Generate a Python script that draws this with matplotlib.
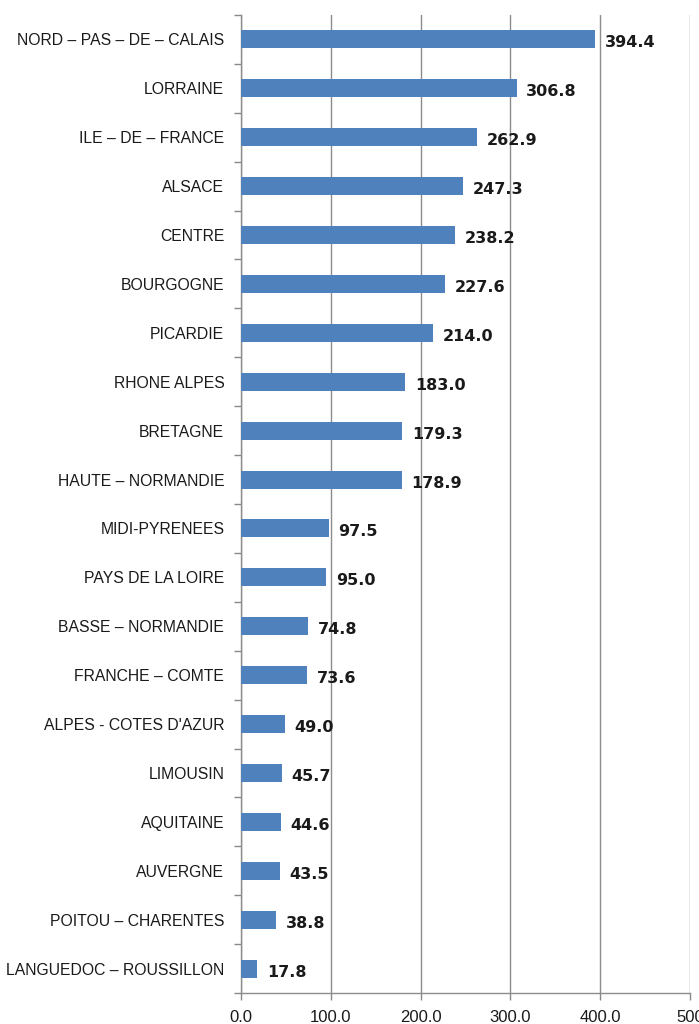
import matplotlib
matplotlib.use("Agg")
import matplotlib.pyplot as plt
import numpy as np

regions = [
    "NORD – PAS – DE – CALAIS", "LORRAINE", "ILE – DE – FRANCE", "ALSACE",
    "CENTRE", "BOURGOGNE", "PICARDIE", "RHONE ALPES", "BRETAGNE",
    "HAUTE – NORMANDIE", "MIDI-PYRENEES", "PAYS DE LA LOIRE",
    "BASSE – NORMANDIE", "FRANCHE – COMTE", "ALPES - COTES D'AZUR",
    "LIMOUSIN", "AQUITAINE", "AUVERGNE", "POITOU – CHARENTES",
    "LANGUEDOC – ROUSSILLON",
]
values = [394.4, 306.8, 262.9, 247.3, 238.2, 227.6, 214.0, 183.0, 179.3,
          178.9, 97.5, 95.0, 74.8, 73.6, 49.0, 45.7, 44.6, 43.5, 38.8, 17.8]
xticks = [0, 100, 200, 300, 400, 500]
xtick_labels = ["0.0", "100.0", "200.0", "300.0", "400.0", "500"]

plt.rcParams["font.family"] = ["Liberation Sans", "DejaVu Sans"]

fig = plt.figure(figsize=(6.99, 10.24), dpi=100)
ax = fig.add_axes([241 / 699, 31 / 1024, 449 / 699, 978 / 1024])

n = len(regions)
y = np.arange(n)
ax.barh(y, values, height=0.37, color="#4F81BD", zorder=3)

# value labels sit right of each bar, a touch below its centre
for yi, v in zip(y, values):
    ax.annotate(f"{v:.1f}", (v, yi), xytext=(7, -2.5), textcoords="offset points",
                ha="left", va="center", fontsize=11.5, fontweight="bold",
                family="DejaVu Sans", color="#1a1a1a", zorder=4)

ax.set_ylim(n - 0.5, -0.5)
ax.set_xlim(0, 500)
ax.set_yticks(y)
ax.set_yticklabels(regions, fontsize=11.3, color="#1a1a1a")
ax.set_yticks(np.arange(n + 1) - 0.5, minor=True)
ax.tick_params(axis="y", which="major", length=0, pad=12)
ax.tick_params(axis="y", which="minor", length=5, color="#888888", width=1)
ax.set_xticks(xticks)
ax.set_xticklabels(xtick_labels, fontsize=12, color="#1a1a1a")
ax.tick_params(axis="x", length=5, color="#888888", width=1, pad=7)

ax.grid(True, axis="x", color="#8c8c8c", linewidth=1, zorder=0)
for side in ("top", "right"):
    ax.spines[side].set_visible(False)
for side in ("left", "bottom"):
    ax.spines[side].set_color("#8c8c8c")
    ax.spines[side].set_linewidth(1)

fig.savefig("out.png", dpi=100)
